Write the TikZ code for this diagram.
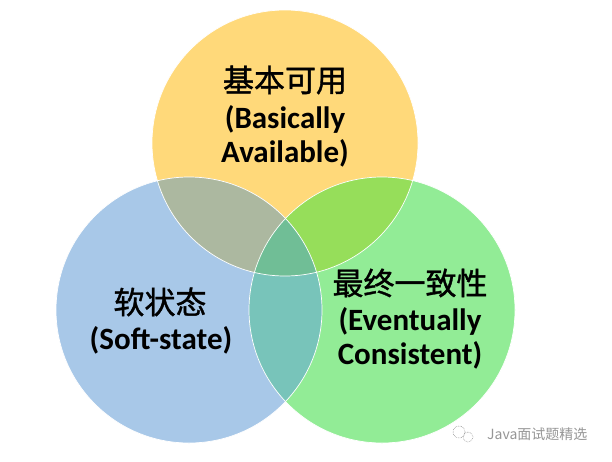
\documentclass[tikz,border=0pt]{standalone}
\usepackage{fontspec}
\setmainfont{Carlito}
\newfontfamily\cjkfont{Noto Sans CJK SC}
\newfontfamily\cjkheavy[FakeBold=1.2]{Noto Sans CJK SC}
\usetikzlibrary{positioning}
\definecolor{myellow}{RGB}{255,217,122}
\definecolor{mblue}{RGB}{168,200,232}
\definecolor{mgreen}{RGB}{146,236,150}
\definecolor{myb}{RGB}{172,184,160}
\definecolor{myg}{RGB}{150,222,90}
\definecolor{mbg}{RGB}{120,196,186}
\definecolor{mall}{RGB}{112,190,150}
\definecolor{mgray}{RGB}{150,150,150}
\tikzset{venn/.style = {circle, minimum size = 266pt, inner sep = 0}}
\tikzset{rim/.style = {draw = white, line width = 0.7pt}}
\tikzset{cntext/.style = {font = \cjkheavy\fontsize{31}{34}\selectfont, inner sep = 0}}
\tikzset{entext/.style = {font = \fontsize{31}{34}\selectfont\bfseries, align = center, inner sep = 0}}

\begin{document}
\begin{tikzpicture}[x=1pt, y=-1pt]
    \useasboundingbox (0, 0) rectangle (612, 461);
    \fill [white] (0, 0) rectangle (612, 461);

    \node [venn, fill = myellow] (ba) at (285, 143) {};
    \node [venn, fill = mblue] (ss) at (189, 310) {};
    \node [venn, fill = mgreen] (ec) at (382, 310) {};

    \begin{scope}
      \clip (ba.center) circle (133pt);
      \fill [myb] (ss.center) circle (133pt);
      \fill [myg] (ec.center) circle (133pt);
    \end{scope}
    \begin{scope}
      \clip (ss.center) circle (133pt);
      \fill [mbg] (ec.center) circle (133pt);
      \clip (ec.center) circle (133pt);
      \fill [mall] (ba.center) circle (133pt);
    \end{scope}

    \draw [rim] (ba.center) circle (133pt);
    \draw [rim] (ss.center) circle (133pt);
    \draw [rim] (ec.center) circle (133pt);

    \node [cntext] (ba-cn) at (285, 80) {基本可用};
    \node [entext] (ba-en) at (285, 136) {(Basically\\Available)};

    \node [cntext] (ss-cn) at (160, 302) {软状态};
    \node [entext] (ss-en) at (161, 340) {(Soft-state)};

    \node [cntext] (ec-cn) at (410, 283) {最终一致性};
    \node [entext] (ec-en) at (410, 338) {(Eventually\\Consistent)};

    \draw [mgray, densely dotted, line width = 0.6pt] (459, 432) circle (6pt) (468, 437) circle (5pt);
    \node [font = \cjkfont\fontsize{14}{16}\selectfont, text = mgray, anchor = west, inner sep = 0] (mark) at (487, 434) {Java面试题精选};
\end{tikzpicture}
\end{document}
